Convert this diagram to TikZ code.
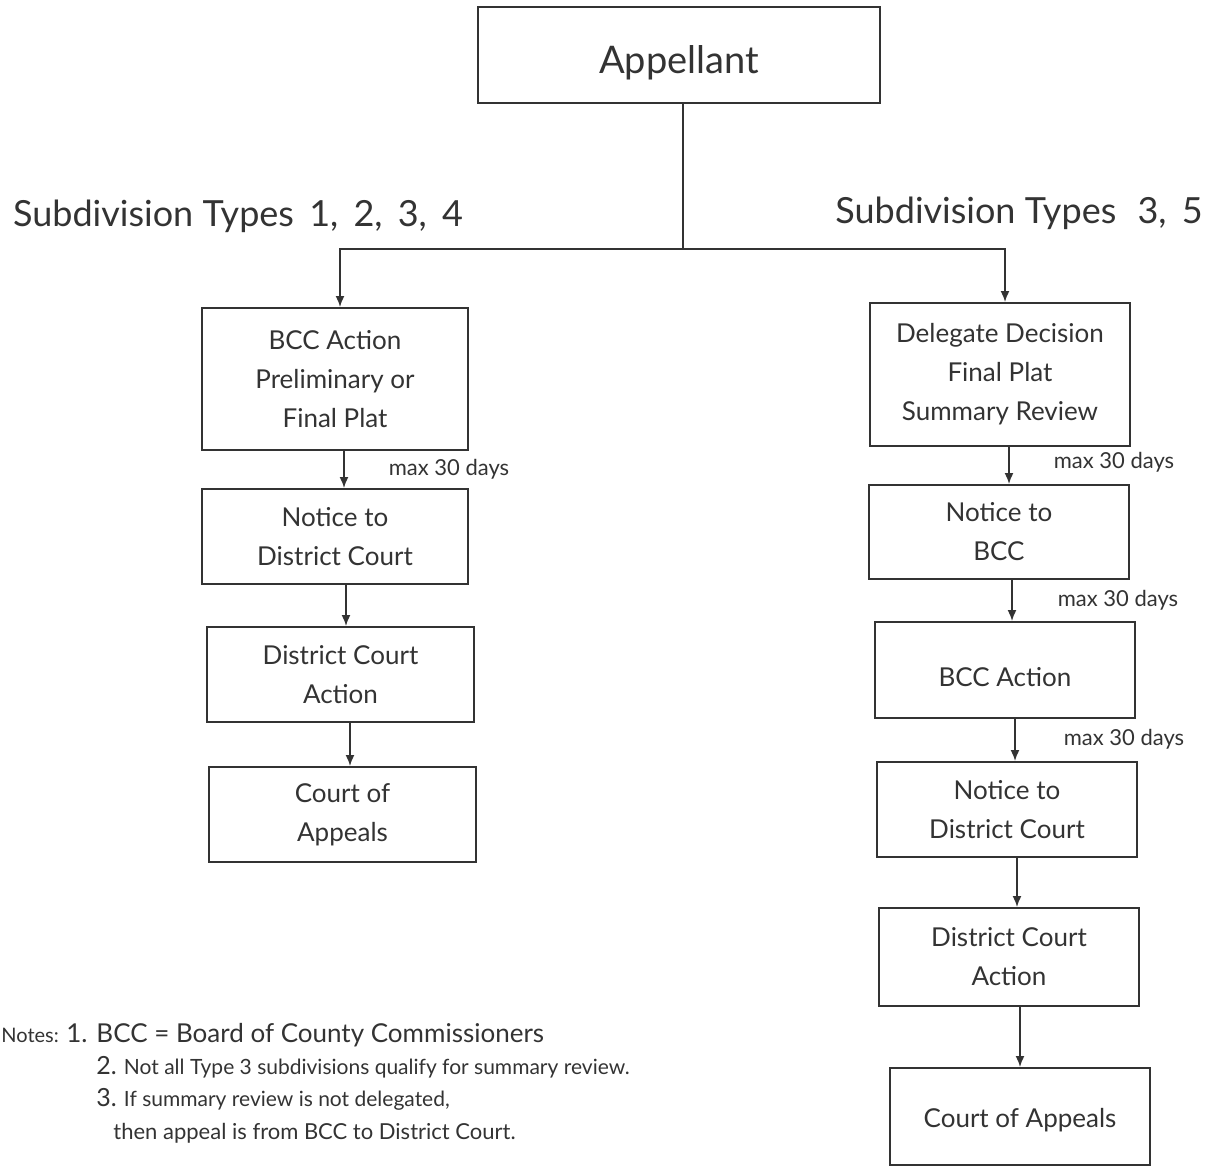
\documentclass[tikz,border=0pt]{standalone}
\usepackage{fontspec}
\setmainfont{Lato}
\usetikzlibrary{arrows.meta,calc}
\definecolor{ink}{HTML}{333333}
\begin{document}
\begin{tikzpicture}[x=0.5pt,y=-0.5pt,
  every node/.style={text=ink},
  box/.style={draw=ink,line width=1pt,align=center,inner sep=0pt,
    font=\fontsize{13}{19.5}\selectfont},
  conn/.style={draw=ink,line width=0.8pt},
  arr/.style={conn,-{Latex[length=5.5pt,width=4.5pt]}},
  lbl/.style={font=\fontsize{11}{13}\selectfont},
  head/.style={font=\fontsize{18}{22}\selectfont},
  note/.style={anchor=base west,inner sep=0pt}]
\useasboundingbox (0,0) rectangle (1211,1168);
% top
\node[box,minimum width=201pt,minimum height=48pt,
  label={[yshift=-4pt,font=\fontsize{19}{22}\selectfont,text=ink]center:Appellant}] (app) at (679,55) {};
\node[head] (hl) at (238,216) {Subdivision Types\, 1,\, 2,\, 3,\, 4};
\node[head] (hr) at (1019,213) {Subdivision Types\,\, 3,\, 5};
% left column
\node[box,minimum width=133pt,minimum height=71pt] (l1) at (335,379) {BCC Action\\Preliminary or\\Final Plat};
\node[box,minimum width=133pt,minimum height=47.5pt] (l2) at (335,536.5) {Notice to\\District Court};
\node[box,minimum width=133.5pt,minimum height=47.5pt] (l3) at (340.5,674.5) {District Court\\Action};
\node[box,minimum width=133.5pt,minimum height=47.5pt] (l4) at (342.5,814.5) {Court of\\Appeals};
% right column
\node[box,minimum width=130pt,minimum height=71.5pt] (r1) at (1000,374.5) {Delegate Decision\\Final Plat\\Summary Review};
\node[box,minimum width=130pt,minimum height=47pt] (r2) at (999,532) {Notice to\\BCC};
\node[box,minimum width=130pt,minimum height=48pt,
  label={[yshift=-3.5pt,font=\fontsize{13}{19.5}\selectfont,text=ink]center:BCC Action}] (r3) at (1005,670) {};
\node[box,minimum width=130pt,minimum height=47.5pt] (r4) at (1007,809.5) {Notice to\\District Court};
\node[box,minimum width=130pt,minimum height=49pt] (r5) at (1009,957) {District Court\\Action};
\node[box,minimum width=130pt,minimum height=48.5pt,
  label={[yshift=-2pt,font=\fontsize{13}{19.5}\selectfont,text=ink]center:Court of Appeals}] (r6) at (1020,1116.5) {};
% connectors from appellant
\coordinate (split) at ($(app.south)+(4,145)$);
\draw[conn] ($(app.south)+(4,0)$) -- (split);
\draw[arr] (split) -| ([xshift=2.5pt]l1.north);
\draw[arr] (split) -| ([xshift=2.5pt]r1.north);
% left arrows
\draw[arr] ([xshift=4.5pt]l1.south) -- ([xshift=4.5pt]l1.south |- l2.north);
\draw[arr] ([xshift=5.5pt]l2.south) -- ([xshift=5.5pt]l2.south |- l3.north);
\draw[arr] ([xshift=4.75pt]l3.south) -- ([xshift=4.75pt]l3.south |- l4.north);
% right arrows
\draw[arr] ([xshift=4.5pt]r1.south) -- ([xshift=4.5pt]r1.south |- r2.north);
\draw[arr] ([xshift=6.5pt]r2.south) -- ([xshift=6.5pt]r2.south |- r3.north);
\draw[arr] ([xshift=5pt]r3.south) -- ([xshift=5pt]r3.south |- r4.north);
\draw[arr] ([xshift=5pt]r4.south) -- ([xshift=5pt]r4.south |- r5.north);
\draw[arr] ([xshift=5.5pt]r5.south) -- ([xshift=5.5pt]r5.south |- r6.north);
% labels
\node[lbl] (m1) at (449,469) {max 30 days};
\node[lbl] (m2) at (1114,462) {max 30 days};
\node[lbl] (m3) at (1118,600) {max 30 days};
\node[lbl] (m4) at (1124,739) {max 30 days};
% notes
\node[note,font=\fontsize{10}{12}\selectfont] (n0) at (1,1042) {Notes:};
\node[note,font=\fontsize{13}{14}\selectfont] (n1) at (66,1042) {1. BCC = Board of County Commissioners};
\node[note,font=\fontsize{10.5}{12}\selectfont] (n2) at (96,1074) {{\fontsize{12.5}{14}\selectfont 2.} Not all Type 3 subdivisions qualify for summary review.};
\node[note,font=\fontsize{10.5}{12}\selectfont] (n3) at (96,1106) {{\fontsize{12.5}{14}\selectfont 3.} If summary review is not delegated,};
\node[note,font=\fontsize{11}{12}\selectfont] (n4) at (113,1139) {then appeal is from BCC to District Court.};
\end{tikzpicture}
\end{document}
